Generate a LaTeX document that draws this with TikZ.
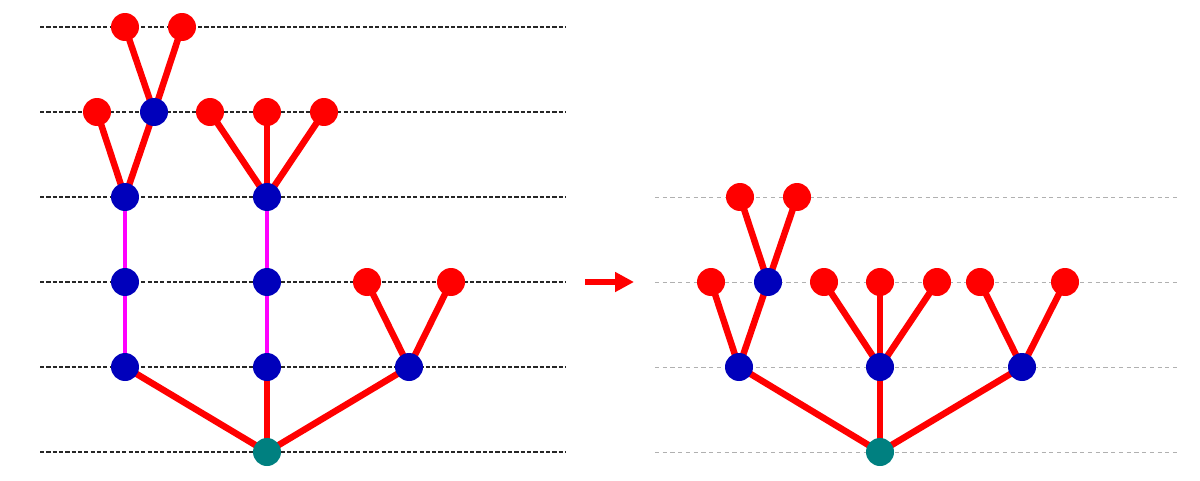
\documentclass[tikz,border=0pt]{standalone}
\usepackage{tikz}
\usetikzlibrary{arrows.meta,backgrounds}
\definecolor{leafred}{HTML}{FF0000}
\definecolor{nodeblue}{HTML}{0000BB}
\definecolor{rootteal}{HTML}{008080}
\definecolor{chainmag}{HTML}{FF00FF}
\definecolor{guidegray}{HTML}{B0B0B0}
\tikzset{
  vert/.style={circle,inner sep=0pt,minimum size=0.56cm},
  leafv/.style={vert,fill=leafred},
  bluev/.style={vert,fill=nodeblue},
  rootv/.style={vert,fill=rootteal},
  rededge/.style={draw=leafred,line width=3.7pt},
  chainedge/.style={draw=chainmag,line width=2.8pt},
  darkguide/.style={draw=black!85,line width=0.6pt,dash pattern=on 2.4pt off 1.2pt},
  lightguide/.style={draw=guidegray,line width=0.5pt,dash pattern=on 2.4pt off 2pt},
  bigarr/.style={-{Triangle[length=0.38cm,width=0.38cm]},line width=3pt,draw=leafred}
}

\begin{document}
\begin{tikzpicture}[x=0.02cm,y=-0.02cm]
    \useasboundingbox (0,0) rectangle (1200,480);
    % level guides
    \foreach \yy in {27,112,197,282,367,452}
      \draw[darkguide] (40,\yy) -- (566,\yy);
    \foreach \yy in {197,282,367,452}
      \draw[lightguide] (655,\yy) -- (1178,\yy);

    % left tree
    \node[rootv] (L0) at (267,452) {};
    \node[bluev] (La) at (125,367) {};
    \node[bluev] (Lb) at (267,367) {};
    \node[bluev] (Lc) at (409,367) {};
    \node[bluev] (La1) at (125,282) {};
    \node[bluev] (Lb1) at (267,282) {};
    \node[leafv] (Lc1) at (367,282) {};
    \node[leafv] (Lc2) at (451,282) {};
    \node[bluev] (La2) at (125,197) {};
    \node[bluev] (Lb2) at (267,197) {};
    \node[leafv] (La21) at (97,112) {};
    \node[bluev] (La22) at (154,112) {};
    \node[leafv] (Lb21) at (210,112) {};
    \node[leafv] (Lb22) at (267,112) {};
    \node[leafv] (Lb23) at (324,112) {};
    \node[leafv] (La221) at (125,27) {};
    \node[leafv] (La222) at (182,27) {};

    % right tree
    \node[rootv] (R0) at (880,452) {};
    \node[bluev] (Ra) at (739,367) {};
    \node[bluev] (Rb) at (880,367) {};
    \node[bluev] (Rc) at (1022,367) {};
    \node[leafv] (Ra1) at (711,282) {};
    \node[bluev] (Ra2) at (768,282) {};
    \node[leafv] (Rb1) at (824,282) {};
    \node[leafv] (Rb2) at (880,282) {};
    \node[leafv] (Rb3) at (937,282) {};
    \node[leafv] (Rc1) at (980,282) {};
    \node[leafv] (Rc2) at (1065,282) {};
    \node[leafv] (Ra21) at (740,197) {};
    \node[leafv] (Ra22) at (797,197) {};

    \begin{scope}[on background layer]
      \foreach \a/\b in {L0/La,L0/Lb,L0/Lc,Lc/Lc1,Lc/Lc2,La2/La21,La2/La22,
                         Lb2/Lb21,Lb2/Lb22,Lb2/Lb23,La22/La221,La22/La222,
                         R0/Ra,R0/Rb,R0/Rc,Ra/Ra1,Ra/Ra2,Rb/Rb1,Rb/Rb2,Rb/Rb3,
                         Rc/Rc1,Rc/Rc2,Ra2/Ra21,Ra2/Ra22}
        \draw[rededge] (\a.center) -- (\b.center);
      \foreach \a/\b in {La/La1,La1/La2,Lb/Lb1,Lb1/Lb2}
        \draw[chainedge] (\a.center) -- (\b.center);
    \end{scope}

    % step arrow
    \coordinate (arrS) at (585,282);
    \coordinate (arrE) at (634,282);
    \draw[bigarr] (arrS) -- (arrE);
\end{tikzpicture}
\end{document}
